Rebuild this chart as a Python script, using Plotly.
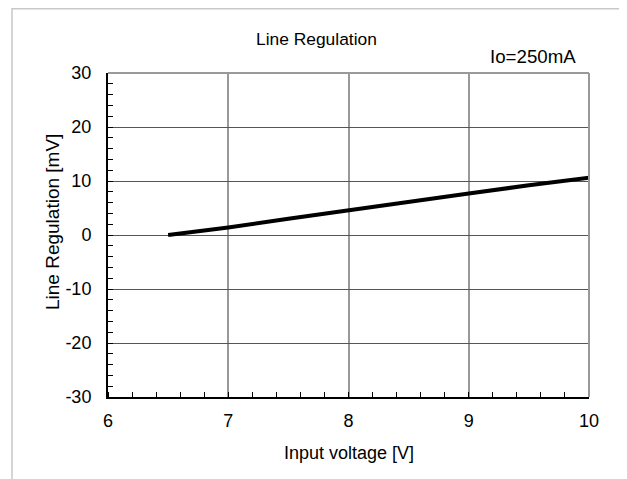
import plotly.graph_objects as go

vin = [6.5, 7.0, 7.5, 8.0, 8.5, 9.0, 9.5, 10.0]
reg_mv = [0.0, 1.4, 3.0, 4.6, 6.2, 7.7, 9.2, 10.6]
x_ticks = [6, 7, 8, 9, 10]
x_labels = ["6", "7", "8", "9", "10"]
y_ticks = [-30, -20, -10, 0, 10, 20, 30]
y_labels = ["-30", "-20", "-10", "0", "10", "20", "30"]

FONT = "Liberation Sans, Arial, sans-serif"
OFF = 8  # page body margin in the screenshot
W, H = 627 - OFF, 479 - OFF
L, R, T, B = 108 - OFF, 589 - OFF, 73 - OFF, 397 - OFF


def px_x(p):
    return (p - OFF - L) / (R - L)


def px_y(p):
    return (B - (p - OFF)) / (B - T)


fig = go.Figure()
fig.add_trace(go.Scatter(x=vin, y=reg_mv, mode="lines",
                         line=dict(color="black", width=4), showlegend=False))

fig.update_layout(
    width=W, height=H,
    margin=dict(l=L, r=W - R, t=T, b=H - B, autoexpand=False),
    paper_bgcolor="white", plot_bgcolor="white",
    font=dict(family=FONT, size=18, color="black"),
    xaxis=dict(range=[6, 10], tickvals=x_ticks, ticktext=x_labels, showgrid=True,
               gridcolor="#999999", gridwidth=2, zeroline=False,
               showline=True, linecolor="black", linewidth=2,
               ticks="", tickfont=dict(size=18), ticklabelstandoff=6,
               automargin=False,
               minor=dict(dtick=0.2, ticks="inside", ticklen=5,
                          tickcolor="black", tickwidth=1, showgrid=False)),
    yaxis=dict(range=[-30, 30], tickvals=y_ticks, ticktext=y_labels, showgrid=True,
               gridcolor="#555555", gridwidth=1, zeroline=False,
               showline=True, linecolor="black", linewidth=2,
               ticks="", tickfont=dict(size=18), ticklabelstandoff=11,
               automargin=False,
               minor=dict(dtick=2, ticks="inside", ticklen=5,
                          tickcolor="black", tickwidth=1, showgrid=False)),
    shapes=[
        dict(type="line", xref="paper", yref="paper", x0=0, x1=1, y0=1, y1=1,
             line=dict(color="#999999", width=2)),
        dict(type="line", xref="paper", yref="paper", x0=1, x1=1, y0=0, y1=1,
             line=dict(color="#999999", width=2)),
        dict(type="rect", xref="paper", yref="paper",
             x0=px_x(12), x1=px_x(624), y0=px_y(500), y1=px_y(8.8),
             line=dict(color="#c8c8c8", width=1.5), fillcolor="rgba(0,0,0,0)",
             layer="below"),
    ],
    annotations=[
        dict(text="Line Regulation", xref="paper", yref="paper",
             x=px_x(316.5), y=px_y(39), xanchor="center", yanchor="middle",
             showarrow=False, font=dict(family=FONT, size=17.4, color="black")),
        dict(text="Io=250mA", xref="paper", yref="paper",
             x=px_x(578), y=px_y(56), xanchor="right", yanchor="middle",
             showarrow=False, font=dict(family=FONT, size=18.7, color="black")),
        dict(text="Input voltage [V]", xref="paper", yref="paper",
             x=px_x(349), y=px_y(453), xanchor="center", yanchor="middle",
             showarrow=False, font=dict(family=FONT, size=18, color="black")),
        dict(text="Line Regulation [mV]", xref="paper", yref="paper",
             x=px_x(52), y=px_y(222), xanchor="center", yanchor="middle",
             textangle=-90, showarrow=False,
             font=dict(family=FONT, size=19, color="black")),
    ],
)

fig.write_html("out.html")
